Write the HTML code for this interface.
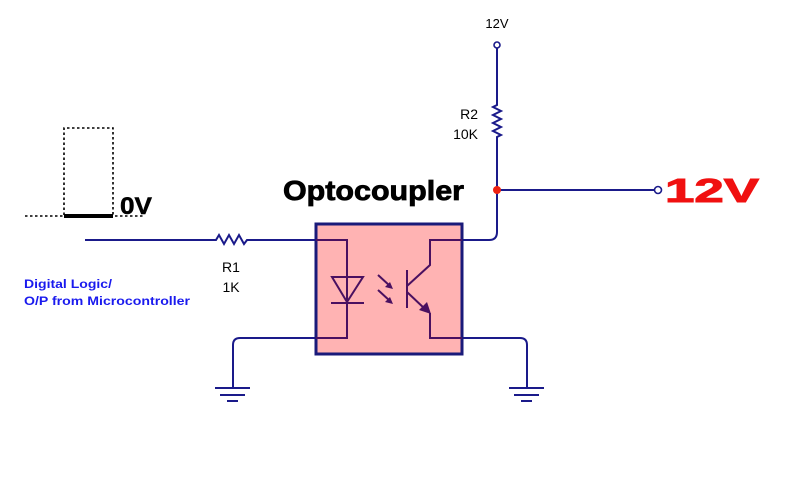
<!DOCTYPE html>
<html><head><meta charset="utf-8"><style>html,body{margin:0;padding:0;background:#fff}svg{display:block}</style></head>
<body>
<svg width="800" height="489" viewBox="0 0 800 489" xmlns="http://www.w3.org/2000/svg" font-family="Liberation Sans, Arial, sans-serif">
<rect width="800" height="489" fill="#fff"/>
<g stroke="#000" stroke-width="1.6" stroke-dasharray="2.5,2.5" fill="none">
<path d="M64 215 V128 H113 V215"/>
<path d="M25 216 H145"/>
</g>
<path d="M64 216 H113" stroke="#000" stroke-width="4"/>
<text x="120" y="214" font-size="24" font-weight="bold" stroke="#000" stroke-width="0.5" textLength="32" lengthAdjust="spacingAndGlyphs">0V</text>
<g stroke="#1a1a8a" stroke-width="2" fill="none">
<path d="M85 240 H216 l3 -5 l5 9 l5 -9 l5 9 l5 -9 l5 9 l3 -4 H316"/>
<path d="M497 46 V105 l-4 2 l8 4 l-8 4 l8 4 l-8 4 l8 4 l-8 4 l8 4 l-4 2 V232 q0 8 -8 8 H462"/>
<path d="M497 190 H654"/>
<path d="M316 338 H240 q-7 0 -7 7 V388"/>
<path d="M462 338 H520 q7 0 7 7 V388"/>
<path d="M215 388 H250 M220 395 H245 M227 401 H238"/>
<path d="M509 388 H544 M514 395 H539 M521 401 H532"/>
</g>
<circle cx="497" cy="45" r="3" fill="#fff" stroke="#1a1a8a" stroke-width="1.6"/>
<circle cx="658" cy="190" r="3.5" fill="#fff" stroke="#1a1a8a" stroke-width="1.6"/>
<circle cx="497" cy="190" r="4" fill="#e21"/>
<rect x="316" y="224" width="146" height="130" fill="#ffb3b3" stroke="#1a1a7a" stroke-width="3"/>
<g stroke="#4a1060" stroke-width="2" fill="none">
<path d="M316 240 H347 V338 H316"/>
<path d="M332 277 H363 L347 302 Z"/>
<path d="M331 303 H364"/>
<path d="M407 270 V308"/>
<path d="M407 286 L430 265 V240 H462"/>
<path d="M407 292 L425 309"/>
<path d="M430 313 V338 H462"/>
<path d="M378 275 L390 286 M378 290 L390 301"/>
</g>
<g fill="#4a1060">
<path d="M431 314 L419 310 L427 302 Z"/>
<path d="M393 289 L385 287 L390 282 Z"/>
<path d="M393 304 L385 302 L390 297 Z"/>
</g>
<text x="283" y="200" font-size="28" font-weight="bold" stroke="#000" stroke-width="0.8" textLength="181" lengthAdjust="spacingAndGlyphs">Optocoupler</text>
<text x="665" y="202" font-size="33" font-weight="bold" fill="#f01010" stroke="#f01010" stroke-width="1" textLength="94" lengthAdjust="spacingAndGlyphs">12V</text>
<text x="497" y="28" font-size="13" text-anchor="middle">12V</text>
<text x="478" y="119" font-size="14" text-anchor="end">R2</text>
<text x="478" y="139" font-size="14" text-anchor="end">10K</text>
<text x="231" y="272" font-size="14" text-anchor="middle">R1</text>
<text x="231" y="292" font-size="14" text-anchor="middle">1K</text>
<text x="24" y="288" font-size="12" font-weight="bold" fill="#1a1aee" textLength="88" lengthAdjust="spacingAndGlyphs">Digital Logic/</text>
<text x="24" y="305" font-size="12" font-weight="bold" fill="#1a1aee" textLength="166" lengthAdjust="spacingAndGlyphs">O/P from Microcontroller</text>
</svg>
</body></html>
